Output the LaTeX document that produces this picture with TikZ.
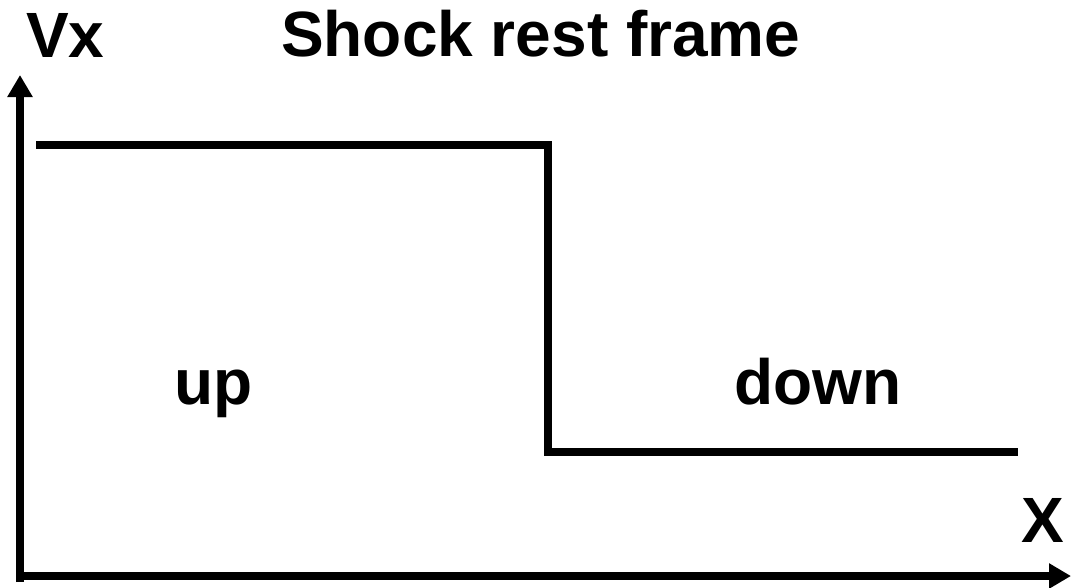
\documentclass[tikz,border=0pt]{standalone}
\usepackage{fontspec}
\setmainfont{Liberation Sans}
\usetikzlibrary{arrows.meta}
\begin{document}
\begin{tikzpicture}[x=1pt,y=-1pt,
  lbl/.style={anchor=base west,inner sep=0pt,font=\fontsize{64}{64}\selectfont\bfseries},
  axis/.style={line width=8pt,line join=miter,-{Triangle[length=22pt,width=24pt]}},
  curve/.style={line width=8pt,line join=miter}]
\useasboundingbox (0,0) rectangle (1071,587);
\coordinate (origin) at (20,576);
\coordinate (ytip) at (20,75);
\coordinate (xtip) at (1071,576);
\coordinate (ybot) at (20,582);
\draw[axis] (ybot) -- (ytip);
\draw[axis] (16,576) -- (xtip);
\coordinate (s0) at (36,145);
\coordinate (s1) at (548,145);
\coordinate (s2) at (548,452);
\coordinate (s3) at (1018,452);
\draw[curve] (s0) -- (s1) -- (s2) -- (s3);
\node[lbl] (vx) at (26,57) {Vx};
\node[lbl] (title) at (281,56) {Shock rest frame};
\node[lbl] (up) at (174,404) {up};
\node[lbl] (down) at (734,404) {down};
\node[lbl] (xl) at (1021,542) {X};
\end{tikzpicture}
\end{document}
